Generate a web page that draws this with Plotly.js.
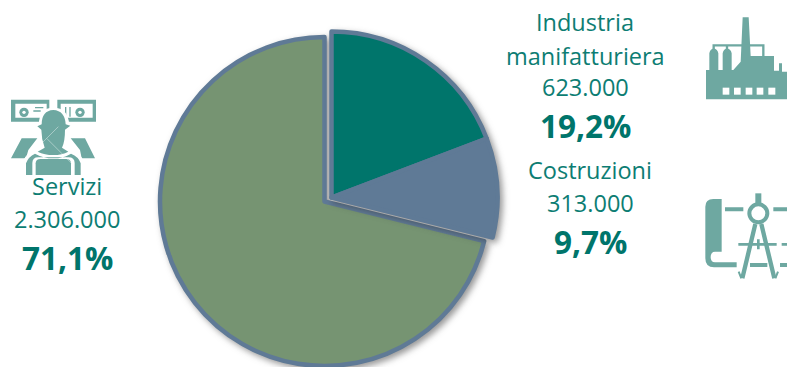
<!DOCTYPE html>
<html>
<head>
<meta charset="utf-8">
<script src="https://cdn.plot.ly/plotly-3.0.1.min.js"></script>
<style>
  html, body { margin: 0; padding: 0; background: #fff; overflow: hidden; width: 787px; height: 367px; }
  #chart { width: 787px; height: 400px; }
  .pielayer .trace { filter: drop-shadow(3px 3px 3px rgba(50,50,50,.5)); }
</style>
</head>
<body>
<div id="chart"></div>
<script>
// Occupati per settore
const sectors = ['Industria manifatturiera', 'Costruzioni', 'Servizi'];
const workers = [623000, 313000, 2306000];
const sectorColors = ['#00756b', '#5f7a96', '#769472'];
const borderColor = '#5f7a96';
const clear = 'rgba(0,0,0,0)';

const W = 787, H = 400;
const fx = px => px / W;
const fy = py => 1 - py / H;
const domainOf = (cx, cy, r) => ({
  x: [(cx - r) / W, (cx + r) / W],
  y: [1 - (cy + r) / H, 1 - (cy - r) / H]
});

function sliceTrace(visibleIdx, domain) {
  const on = i => visibleIdx.includes(i);
  return {
    type: 'pie',
    labels: sectors,
    values: workers,
    sort: false,
    direction: 'clockwise',
    rotation: 0,
    textinfo: 'none',
    hoverinfo: 'skip',
    showlegend: false,
    domain,
    marker: {
      colors: sectorColors.map((c, i) => on(i) ? c : clear),
      line: { color: sectors.map((_, i) => on(i) ? borderColor : clear), width: 4.5 }
    }
  };
}

// La fetta dei servizi resta ferma, le altre due sono staccate verso l'alto a destra
const traces = [
  sliceTrace([2], domainOf(324.5, 201.5, 164.5)),
  sliceTrace([0, 1], domainOf(331.5, 197.5, 166))
];

const FONT = '"Open Sans", sans-serif';
const label = (text, cx, cy, size, bold) => ({
  text: bold ? '<b>' + text + '</b>' : text,
  xref: 'paper', yref: 'paper',
  x: fx(cx), y: fy(cy),
  xanchor: 'center', yanchor: 'middle',
  showarrow: false,
  font: { family: FONT, size, color: bold ? '#00756b' : '#0d7d73' }
});

const captions = [
  label('Industria', 585, 22, 23.5),
  label('manifatturiera', 585, 56, 23.5),
  label('623.000', 585, 87, 23.5),
  label('19,2%', 585, 126, 31.5, true),
  label('Costruzioni', 590, 170, 23.5),
  label('313.000', 590, 203, 23.5),
  label('9,7%', 590, 241, 31.5, true),
  label('Servizi', 67, 186, 23.5),
  label('2.306.000', 67, 219, 23.5),
  label('71,1%', 67, 257, 31.5, true)
];

// Pittogrammi dei settori
const ICON = '#6ea8a1';
const svgUri = (w, h, body) => 'data:image/svg+xml;utf8,' + encodeURIComponent(
  `<svg xmlns="http://www.w3.org/2000/svg" viewBox="0 0 ${w} ${h}" width="${w}" height="${h}">
     <defs><filter id="s" x="-5%" y="-5%" width="110%" height="110%"><feGaussianBlur stdDeviation="1.2"/></filter></defs>
     <g filter="url(#s)">${body}</g></svg>`);

const factory = svgUri(261, 285,
  `<path fill="${ICON}" d="M18 268 V180 H28 V130 Q30 118 41 115 Q53 118 55 130 V180 H68 V130 Q70 118 81 115 Q93 118 95 130 V180 H100 L122 155 L128 22 H146 L152 138 H222 V182 H237 V160 H246 V185 H261 V268 Z"/>
   <path fill="none" stroke="${ICON}" stroke-width="7" d="M41 118 V106 H190 V140 M81 118 V106"/>
   <g fill="#fff"><rect x="68" y="233" width="20" height="21"/><rect x="102" y="233" width="20" height="21"/>
   <rect x="137" y="233" width="20" height="21"/><rect x="170" y="233" width="20" height="21"/><rect x="205" y="233" width="21" height="21"/></g>`);

const compass = svgUri(321, 330,
  `<path fill="${ICON}" d="M125 57 H100 Q76 57 76 80 V235 Q76 262 102 262 H170 V247 H105 Q92 247 92 232 Q92 215 105 215 H125 Z"/>
   <g fill="none" stroke="${ICON}">
     <path stroke-width="12" d="M135 88 H190 M280 88 H321 M210 255 H262 M300 255 H321"/>
     <path stroke-width="8" d="M175 193 H290 M235 178 V208 M305 193 H321"/>
     <circle cx="235" cy="100" r="27" stroke-width="12" fill="#fff"/>
     <path stroke-width="18" d="M235 40 V72"/>
     <path stroke-width="13" d="M226 132 L187 295 M244 132 L283 295"/>
     <path stroke-width="6" d="M176 275 L184 295 M294 275 L286 295"/>
   </g>`);

const worker = svgUri(315, 240,
  `<g fill="${ICON}">
     <path fill-rule="evenodd" d="M33 14 H148 V80 H33 Z M46 26 V68 H140 V26 Z"/>
     <path fill-rule="evenodd" d="M172 14 H288 V80 H172 Z M182 26 V68 H278 V26 Z"/>
     <circle cx="72" cy="52" r="14"/><circle cx="240" cy="52" r="14"/>
     <path d="M65 130 H112 L85 165 L78 190 H33 Z M212 130 H255 L285 190 H245 L240 165 Z"/>
   </g>
   <circle cx="72" cy="52" r="5" fill="#fff"/><circle cx="240" cy="52" r="5" fill="#fff"/>
   <path stroke="${ICON}" stroke-width="4" d="M105 38 H130 M100 48 H122 M197 36 V65 M210 36 V65"/>
   <path fill="#fff" stroke="#fff" stroke-width="7" d="M120 90 Q120 42 160 42 Q202 42 204 90 L195 105 V165 L130 165 L122 105 Z"/>
   <path fill="#fff" stroke="#fff" stroke-width="3" d="M72 240 V195 Q80 172 128 158 H190 Q240 172 248 195 V240 Z"/>
   <g fill="${ICON}">
     <path d="M125 88 Q125 47 160 45 Q195 47 197 88 L211 92 L195 104 Q195 140 186 158 L205 170 Q186 180 160 180 Q134 180 113 170 L134 158 Q124 130 124 104 L112 94 Z"/>
     <path d="M78 240 V205 Q85 185 105 176 Q130 190 160 190 Q190 190 213 176 Q236 185 242 205 V240 H224 V204 Q224 187 205 187 H115 Q97 187 97 204 V240 Z"/>
     <path d="M107 240 V205 Q107 192 122 192 H198 Q213 192 213 205 V240 Z"/>
   </g>
   <path stroke="#fff" stroke-width="2" opacity=".6" d="M55 215 L175 95 M140 130 L215 205"/>`);

const place = (source, x, y, w, h) => ({
  source, xref: 'paper', yref: 'paper',
  x: fx(x), y: fy(y), sizex: w / W, sizey: h / H,
  xanchor: 'left', yanchor: 'top', sizing: 'stretch', layer: 'below', opacity: 1
});

Plotly.newPlot('chart', traces, {
  width: W, height: H,
  margin: { l: 0, r: 0, t: 0, b: 0 },
  paper_bgcolor: '#fff',
  annotations: captions,
  images: [
    place(factory, 700, 10, 87, 95),
    place(compass, 680, 180, 107, 110),
    place(worker, 0, 95, 105, 80)
  ]
}, { displayModeBar: false, staticPlot: true });
</script>
</body>
</html>
